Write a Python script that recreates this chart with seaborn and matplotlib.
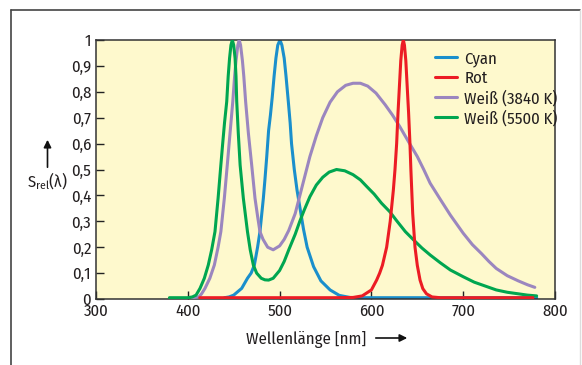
import matplotlib
matplotlib.use('Agg')
import matplotlib.pyplot as plt
import seaborn as sns
import pandas as pd
from matplotlib.lines import Line2D
from matplotlib.patches import FancyArrowPatch

sns.set_style('ticks')
plt.rcParams['font.family'] = ['Fira Sans Condensed', 'DejaVu Sans']
plt.rcParams['font.size'] = 12
plt.rcParams['mathtext.fontset'] = 'custom'
plt.rcParams['mathtext.rm'] = 'Fira Sans Condensed'
plt.rcParams['mathtext.it'] = 'Fira Sans Condensed'

# values (flat parts sit just above the axis line)
cyan_nm = [440, 445, 450, 455, 458.7, 465, 469, 472.5, 476, 478.6, 482.3, 484, 486, 488, 490, 492,
           494, 496, 498, 500.4, 502.5, 505, 507, 509.5, 511.5, 513, 516, 519, 522, 526, 530, 537,
           545, 555, 565, 578, 780]
cyan_val = [0.005, 0.008, 0.015, 0.03, 0.041, 0.08, 0.1, 0.131, 0.2, 0.26, 0.389, 0.46, 0.55, 0.65,
            0.71, 0.78, 0.86, 0.93, 0.98, 1.0, 0.98, 0.93, 0.86, 0.762, 0.68, 0.6, 0.5, 0.42, 0.356,
            0.27, 0.2, 0.125, 0.07, 0.035, 0.014, 0.005, 0.005]

rot_nm = [413, 560, 580, 590, 600, 605.7, 609, 612, 616.6, 620.5, 623.9, 625.7, 627.5, 629, 630.5,
          632, 633.5, 634.8, 636, 637.5, 639, 640.5, 642, 643, 645, 647.5, 650, 653, 656, 660, 666,
          675, 776]
rot_val = [0.005, 0.005, 0.006, 0.012, 0.035, 0.073, 0.1, 0.13, 0.2, 0.3, 0.42, 0.5, 0.6, 0.72, 0.82,
           0.92, 0.98, 1.0, 0.98, 0.92, 0.82, 0.72, 0.6, 0.5, 0.33, 0.2, 0.13, 0.073, 0.04, 0.02,
           0.008, 0.005, 0.005]

w3840_nm = [405, 412, 415, 418.7, 424, 428.9, 433, 436, 439.8, 443, 446, 449, 451, 452.5, 454.5,
            456, 457.5, 459.5, 461, 463, 466, 469.6, 473.2, 476, 478.6, 482, 487, 493, 500, 505,
            510, 517, 525, 533, 540, 547, 555, 563, 572, 580, 588, 596, 605, 615, 623, 631, 640,
            650, 657, 664, 675, 686, 700, 710, 720, 728, 736, 748, 760, 770, 778]
w3840_val = [0.005, 0.008, 0.02, 0.041, 0.08, 0.131, 0.2, 0.26, 0.389, 0.517, 0.64, 0.762, 0.86, 0.92,
             0.98, 1.0, 0.98, 0.92, 0.86, 0.762, 0.64, 0.517, 0.389, 0.32, 0.26, 0.23, 0.2, 0.19,
             0.205, 0.23, 0.265, 0.33, 0.44, 0.55, 0.63, 0.7, 0.76, 0.8, 0.825, 0.833, 0.833,
             0.822, 0.795, 0.75, 0.71, 0.665, 0.61, 0.55, 0.5, 0.447, 0.385, 0.324, 0.254, 0.21,
             0.175, 0.145, 0.118, 0.09, 0.07, 0.055, 0.045]

w5500_nm = [380, 400, 405, 409, 413.3, 418, 422.3, 426, 429.6, 433, 436, 438, 440, 442.4, 444,
            445.5, 447, 448.5, 450, 451.5, 452.5, 453.3, 455, 457, 460.5, 465, 468, 471.4, 475,
            480, 484, 488, 493, 500, 505, 510, 517, 522, 527, 533, 540, 547, 554, 562, 571, 580,
            588, 595, 603, 611, 620, 628, 637, 646, 655, 664, 675, 686, 700, 712, 724, 736, 748,
            760, 770, 780]
w5500_val = [0.005, 0.005, 0.008, 0.015, 0.041, 0.08, 0.131, 0.19, 0.26, 0.389, 0.517, 0.6, 0.68, 0.762,
             0.86, 0.93, 0.98, 1.0, 0.98, 0.93, 0.86, 0.762, 0.64, 0.517, 0.389, 0.26, 0.19, 0.131,
             0.1, 0.08, 0.074, 0.073, 0.08, 0.11, 0.145, 0.19, 0.25, 0.3, 0.345, 0.395, 0.44,
             0.47, 0.49, 0.5, 0.495, 0.48, 0.46, 0.434, 0.405, 0.37, 0.337, 0.3, 0.26, 0.228,
             0.197, 0.17, 0.14, 0.112, 0.086, 0.065, 0.05, 0.035, 0.026, 0.02, 0.015, 0.012]

labels = ['Cyan', 'Rot', 'Weiß (3840 K)', 'Weiß (5500 K)']
colors = ['#1a8fcc', '#ec1c24', '#9b86bf', '#00a650']
series = [(cyan_nm, cyan_val), (rot_nm, rot_val), (w3840_nm, w3840_val), (w5500_nm, w5500_val)]
zorders = [2, 5, 3, 4]

fig = plt.figure(figsize=(5.82, 3.65), dpi=100)
ax = fig.add_axes([96 / 582, 1 - 299 / 365, 459 / 582, 259 / 365])
ax.set_facecolor('#fef9cd')

for (nm, val), lab, col, z in zip(series, labels, colors, zorders):
    df = pd.DataFrame({'nm': nm, 'val': val})
    sns.lineplot(data=df, x='nm', y='val', color=col, linewidth=2.2, label=lab,
                 estimator=None, ax=ax, zorder=z)

ax.set_xlim(300, 800)
ax.set_ylim(0, 1)
ax.set_xticks([300, 400, 500, 600, 700, 800])
ax.set_yticks([i / 10 for i in range(11)])
ax.set_yticklabels(['0', '0,1', '0,2', '0,3', '0,4', '0,5', '0,6', '0,7', '0,8', '0,9', '1'])
ax.tick_params(direction='in', length=6, width=1, color='#222222', labelsize=12,
               labelcolor='#231f20')
ax.tick_params(axis='y', pad=3.5)
ax.tick_params(axis='x', pad=3)
for s in ax.spines.values():
    s.set_color('#333333')
    s.set_linewidth(1.1)
ax.set_xlabel('')
ax.set_ylabel('')

handles, labs = ax.get_legend_handles_labels()
ax.legend(handles, labs, loc='upper left', bbox_to_anchor=(0.7386, 0.96), frameon=False,
          borderpad=0, borderaxespad=0, handlelength=1.3, handletextpad=0.45,
          labelspacing=0.22, fontsize=12, labelcolor='#231f20')

# axis labels with arrows
fig.text(47 / 582, 1 - 181 / 365, r'S$_{\mathrm{rel}}$(λ)', ha='center', va='center',
         fontsize=12, color='#231f20')
fig.add_artist(FancyArrowPatch((47.5 / 582, 1 - 170 / 365), (47.5 / 582, 1 - 137 / 365),
                               transform=fig.transFigure, arrowstyle='-|>', mutation_scale=11,
                               color='#111111', linewidth=1.2))
fig.text(366 / 582, 1 - 339 / 365, 'Wellenlänge [nm]', ha='right', va='center',
         fontsize=12, color='#231f20')
fig.add_artist(FancyArrowPatch((373 / 582, 1 - 338 / 365), (410 / 582, 1 - 338 / 365),
                               transform=fig.transFigure, arrowstyle='-|>', mutation_scale=11,
                               color='#111111', linewidth=1.2))

# outer frame
fig.add_artist(Line2D([11 / 582, 11 / 582], [0, 1 - 10 / 365], color='#444444', linewidth=1.2))
fig.add_artist(Line2D([11 / 582, 580 / 582], [1 - 10 / 365, 1 - 10 / 365], color='#444444',
                      linewidth=1.2))
fig.add_artist(Line2D([580 / 582, 580 / 582], [0, 1 - 10 / 365], color='#dddddd', linewidth=1))

plt.savefig('out.png', dpi=100)
